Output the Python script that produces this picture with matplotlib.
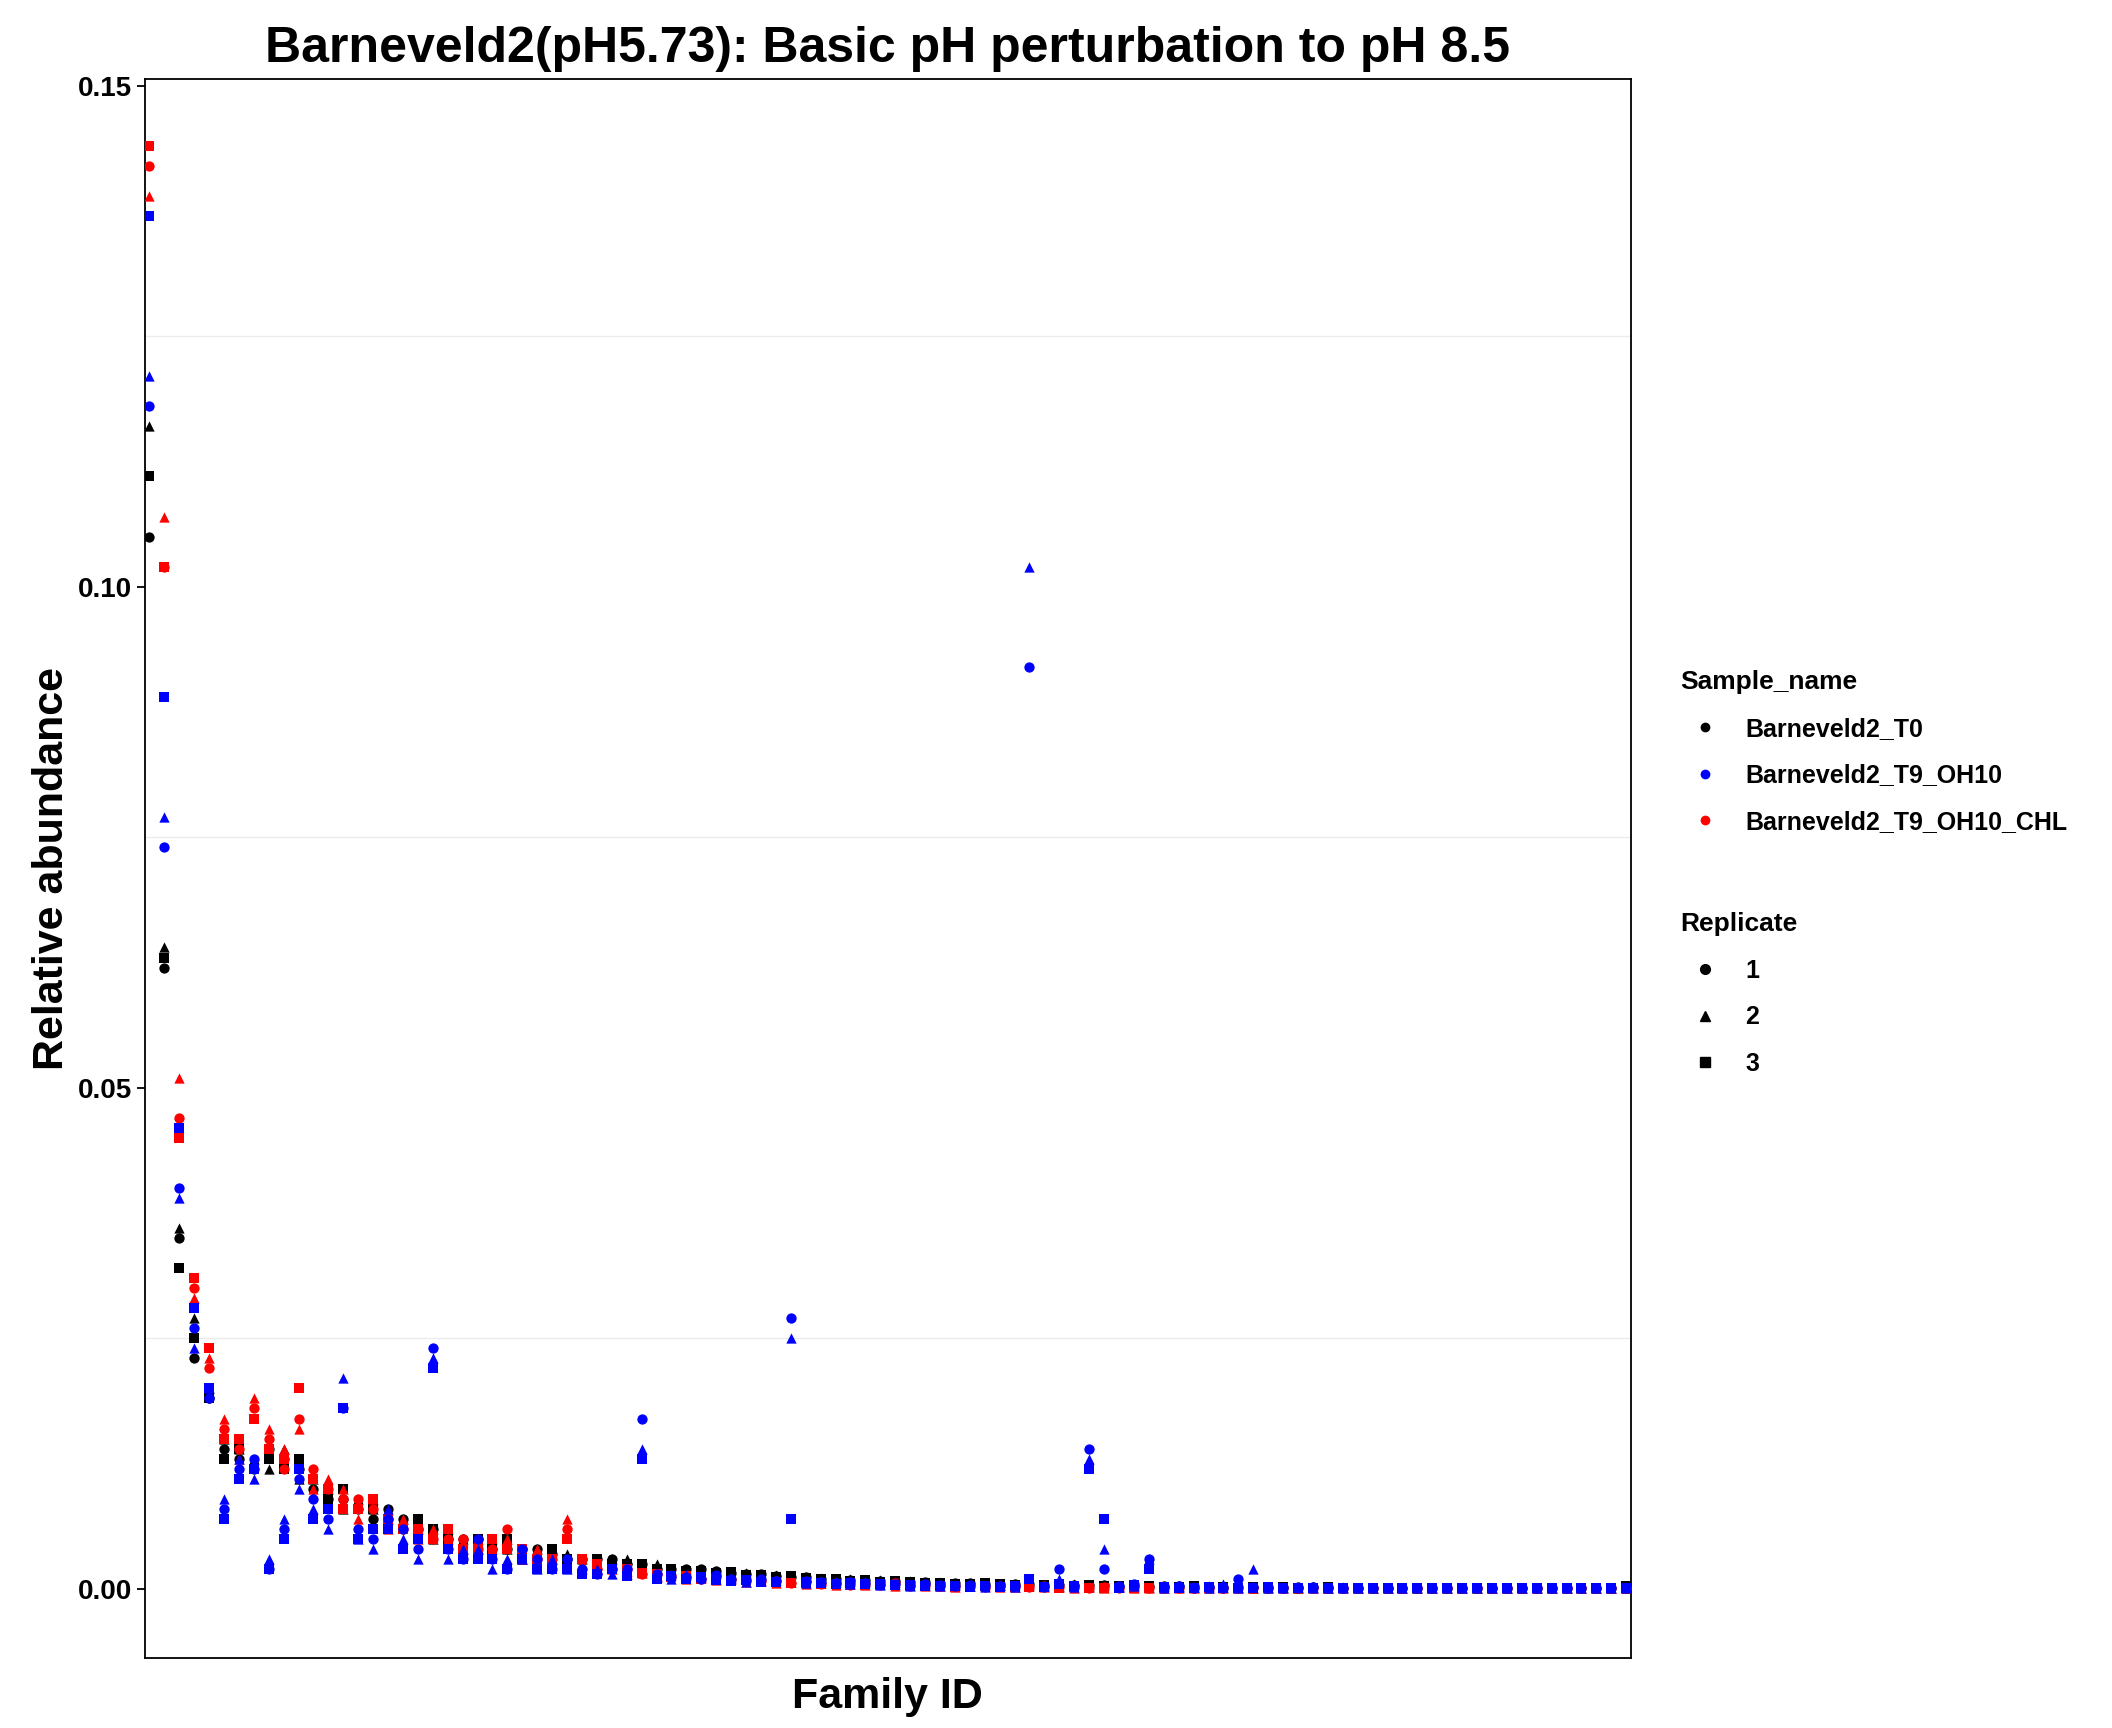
import matplotlib
matplotlib.use("Agg")
import matplotlib.pyplot as plt
from matplotlib.lines import Line2D
import numpy as np

# Relative abundance values (x1e-3) per family, ordered by family index
T0_1 = [105,62,35,23,19,14,13,12,14,13,12,10,9,9,8,7,8,7,6,6,5,5,5,4,4,4,4,3.5,3,3,3,3,2.5,2.5,2,2,2,2,1.8,1.6,1.5,1.5,1.3,1.2,1.2,1.0,1.0,0.9,0.9,0.8,0.8,0.7,0.7,0.6,0.6,0.6,0.5,0.5,0.5,0.5,0.4,0.4,0.4,0.4,0.4,0.3,0.3,0.3,0.3,0.3,0.3,0.2,0.2,0.2,0.2,0.2,0.2,0.2,0.2,0.2,0.1,0.1,0.1,0.1,0.1,0.1,0.1,0.1,0.1,0.1,0.1,0.1,0.1,0.1,0.1,0.1,0.1,0.1,0.1,0.1]
T0_2 = [116,64,36,27,20,15,14,13,12,14,11,11,10,8,9,8,7,7,6,5,6,5,4,5,4,3,4,3,3.5,3,2.5,3,3,2,2.5,2,2,1.5,1.8,1.5,1.6,1.3,1.4,1.1,1.2,1.1,0.9,1.0,0.8,0.9,0.7,0.8,0.6,0.7,0.5,0.6,0.5,0.4,0.5,0.4,0.4,0.3,0.5,0.3,0.4,0.3,0.4,0.2,0.3,0.3,0.2,0.3,0.2,0.2,0.1,0.2,0.2,0.1,0.2,0.1,0.2,0.1,0.1,0.1,0.1,0.1,0.1,0.1,0.1,0.1,0.1,0.1,0.1,0.1,0.1,0.1,0.1,0.1,0.1,0.1]
T0_3 = [111,63,32,25,19,13,14,12,13,12,13,11,9,10,8,8,7,6,7,6,5,4,5,4,5,4,3,4,3,3,3,2.5,2.5,2.5,2,2,1.8,1.8,1.6,1.7,1.4,1.4,1.2,1.3,1.1,1.0,1.0,0.8,0.9,0.7,0.8,0.7,0.6,0.6,0.5,0.5,0.6,0.5,0.4,0.4,0.4,0.4,0.3,0.4,0.3,0.3,0.3,0.3,0.2,0.2,0.3,0.2,0.2,0.1,0.2,0.1,0.2,0.1,0.1,0.2,0.1,0.1,0.1,0.1,0.1,0.1,0.1,0.1,0.1,0.1,0.1,0.1,0.1,0.1,0.1,0.1,0.1,0.1,0.1,0.3]
B_1 = [118,74,40,26,19,8,12,13,2,6,11,9,7,18,6,5,7,6,4,24,4,3,5,3,2,4,3,2,3,2,1.5,2,2,17,1.5,1.2,1.2,1.0,1.4,1.0,0.9,1.0,0.8,27,0.8,0.7,0.6,0.7,0.6,0.5,0.5,0.4,0.5,0.4,0.3,0.4,0.3,0.3,0.3,92,0.2,2,0.3,14,2,0.3,0.5,3,0.2,0.3,0.1,0.2,0.1,1,0.2,0.1,0.1,0.1,0.2,0.1,0.1,0.1,0.1,0.1,0.1,0.1,0.1,0.1,0.1,0.1,0.1,0.1,0.1,0.1,0.1,0.1,0.1,0.1,0.1]
B_2 = [121,77,39,24,20,9,13,11,3,7,10,8,6,21,5,4,8,5,3,23,3,4,4,2,3,3,2,3,2,2,2,1.5,1.5,14,1.2,1.0,1.4,1.2,1.0,1.1,0.7,0.8,0.9,25,0.6,0.8,0.7,0.5,0.7,0.4,0.5,0.3,0.4,0.3,0.4,0.3,0.2,0.4,0.2,102,0.3,1,0.2,13,4,0.2,0.3,3,0.1,0.2,0.2,0.1,0.5,0.1,2,0.1,0.1,0.2,0.1,0.1,0.1,0.1,0.1,0.1,0.1,0.1,0.1,0.1,0.1,0.1,0.1,0.1,0.1,0.1,0.1,0.1,0.1,0.1,0.1,0.1]
B_3 = [137,89,46,28,20,7,11,12,2,5,12,7,8,18,5,6,6,4,5,22,4,3,3,3,2,3,2,2,2,1.5,1.5,2,1.3,13,1.0,1.3,1.0,1.2,0.9,0.8,0.9,0.7,0.7,7,0.7,0.6,0.5,0.6,0.5,0.5,0.4,0.4,0.3,0.3,0.3,0.2,0.3,0.2,0.3,1,0.2,0.5,0.3,12,7,0.1,0.4,2,0.2,0.1,0.1,0.2,0.1,0.1,0.1,0.2,0.1,0.1,0.1,0.1,0.1,0.1,0.1,0.1,0.1,0.1,0.1,0.1,0.1,0.1,0.1,0.1,0.1,0.1,0.1,0.1,0.1,0.1,0.1,0.1]
R_1 = [142,102,47,30,22,16,14,18,15,12,17,12,10,9,9,8,7,6,6,5,5,5,4,4,6,4,3,3,6,3,2,2,2,1.5,1.5,1.3,1.2,1.0,1.2,0.9,0.8,0.8,0.8,0.6,0.7,0.5,0.6,0.4,0.5,0.4,0.6,0.3,0.4,0.3,0.3,0.3,0.2,0.3,0.3,0.2,0.3,0.2,0.2,0.1,0.2,0.1,0.2,0.1,0.1,0.1,0.1,0.1,0.1,0.1,0.1,0.1,0.1,0.1,0.1,0.1,0.1,0.1,0.1,0.1,0.1,0.1,0.1,0.1,0.1,0.1,0.1,0.1,0.1,0.1,0.1,0.1,0.1,0.1,0.1,0.1]
R_2 = [139,107,51,29,23,17,13,19,16,14,16,10,11,10,7,9,6,7,5,6,5,4,5,4,5,3,4,3,7,2.5,2,2,1.8,1.6,1.3,1.4,1.0,1.1,0.9,1.0,0.7,0.9,0.6,0.7,0.5,0.6,0.4,0.5,0.4,0.5,0.3,0.4,0.3,0.3,0.2,0.3,0.3,0.2,0.2,0.3,0.2,0.2,0.1,0.2,0.1,0.2,0.1,0.1,0.1,0.1,0.1,0.1,0.1,0.1,0.1,0.1,0.1,0.1,0.1,0.1,0.1,0.1,0.1,0.1,0.1,0.1,0.1,0.1,0.1,0.1,0.1,0.1,0.1,0.1,0.1,0.1,0.1,0.1,0.1,0.1]
R_3 = [144,102,45,31,24,15,15,17,14,13,20,11,10,8,8,9,7,6,6,5,6,4,4,5,4,4,3,3,5,3,2.5,2,2,1.6,1.5,1.2,1.3,1.0,1.0,0.8,0.9,0.7,0.7,0.6,0.6,0.5,0.5,0.4,0.4,0.4,0.4,0.3,0.3,0.3,0.2,0.2,0.3,0.2,0.2,0.2,0.2,0.1,0.2,0.1,0.1,0.1,0.1,0.1,0.1,0.1,0.1,0.1,0.1,0.1,0.1,0.1,0.1,0.1,0.1,0.1,0.1,0.1,0.1,0.1,0.1,0.1,0.1,0.1,0.1,0.1,0.1,0.1,0.1,0.1,0.1,0.1,0.1,0.1,0.1,0.1]

samples = ["Barneveld2_T0", "Barneveld2_T9_OH10", "Barneveld2_T9_OH10_CHL"]
colors = ["black", "blue", "red"]
replicates = ["1", "2", "3"]
markers = ["o", "^", "s"]
series = [[T0_1, T0_2, T0_3], [B_1, B_2, B_3], [R_1, R_2, R_3]]
draw_order = {0: 3, 1: 5, 2: 4}

plt.rcParams['font.family'] = ['Liberation Sans', 'DejaVu Sans']
fig = plt.figure(figsize=(21.12, 17.28), dpi=100)
ax = fig.add_axes([0.0686, 0.0405, 0.7035, 0.914])

for si, reps in enumerate(series):
    for ri, vals in enumerate(reps):
        v = np.array(vals) / 1000.0
        ax.scatter(np.arange(len(v)), v, c=colors[si], marker=markers[ri], s=55, linewidths=0,
                   zorder=draw_order[si])

ax.set_xlim(-0.3, 99.3)
ax.set_ylim(-0.0069, 0.1507)
ax.set_yticks([0, 0.05, 0.10, 0.15])
ax.set_yticklabels(["0.00", "0.05", "0.10", "0.15"])
for yy in [0.025, 0.075, 0.125]:
    ax.axhline(yy, color="#ebebeb", lw=1, zorder=1)
ax.set_xticks([])
for s in ax.spines.values():
    s.set_linewidth(1.3)
ax.tick_params(axis='y', labelsize=20, width=1.3, length=6)
for t in ax.get_yticklabels():
    t.set_fontweight('bold')
ax.set_xlabel("Family ID", fontsize=31, fontweight='bold', labelpad=14)
ax.set_ylabel("Relative abundance", fontsize=31, fontweight='bold')
ax.set_title("Barneveld2(pH5.73): Basic pH perturbation to pH 8.5", fontsize=36, fontweight='bold', pad=12)

h1 = [Line2D([], [], ls='', marker='o', color=c, markersize=6) for c in colors]
leg1 = fig.legend(h1, samples, title="Sample_name", loc='upper left', bbox_to_anchor=(0.785, 0.625),
                  frameon=False, prop={'size': 18, 'weight': 'bold'}, title_fontproperties={'size': 19, 'weight': 'bold'},
                  labelspacing=0.9, handletextpad=0.6)
leg1._legend_box.align = "left"
h2 = [Line2D([], [], ls='', marker=m, color='black', markersize=7) for m in markers]
leg2 = fig.legend(h2, replicates, title="Replicate", loc='upper left', bbox_to_anchor=(0.785, 0.485),
                  frameon=False, prop={'size': 18, 'weight': 'bold'}, title_fontproperties={'size': 19, 'weight': 'bold'},
                  labelspacing=0.9, handletextpad=0.6)
leg2._legend_box.align = "left"

fig.savefig("out.png", dpi=100)
